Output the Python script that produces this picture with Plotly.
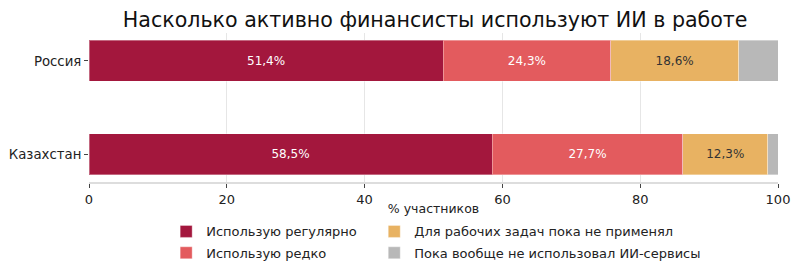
import plotly.graph_objects as go

countries = ["Россия", "Казахстан"]
series_names = ["Использую регулярно", "Использую редко",
                "Для рабочих задач пока не применял", "Пока вообще не использовал ИИ-сервисы"]
regular = [51.4, 58.5]
rare = [24.3, 27.7]
not_for_work = [18.6, 12.3]
never = [5.7, 1.5]
x_ticks = [0, 20, 40, 60, 80, 100]

colors = ["#A3173D", "#E35B5E", "#E8B262", "#B8B8B8"]
text_colors = ["white", "white", "#333333", "#333333"]
values = [regular, rare, not_for_work, never]
legend_ids = ["legend", "legend2", "legend3", "legend4"]
show_text = [True, True, True, False]

fig = go.Figure()
for name, vals, col, tc, lg, st in zip(series_names, values, colors, text_colors, legend_ids, show_text):
    fig.add_trace(go.Bar(
        y=countries, x=vals, name=name, orientation="h",
        marker=dict(color=col, line=dict(color="rgba(255,255,255,0.35)", width=1)),
        text=[f"{v:.1f}%".replace(".", ",") for v in vals] if st else None,
        textposition="inside", insidetextanchor="middle",
        textfont=dict(color=tc, size=12, family="DejaVu Sans"),
        width=0.44, legend=lg, showlegend=True, hoverinfo="skip",
    ))

leg_common = dict(orientation="h", xref="paper", yref="container", xanchor="left", yanchor="top",
                  font=dict(size=13), traceorder="normal", bgcolor="rgba(0,0,0,0)")
row1_y, row2_y = 0.21, 0.132
col1_x, col2_x = 0.112, 0.414
fig.update_layout(
    barmode="stack",
    showlegend=True,
    width=800, height=274,
    margin=dict(l=89, r=22, t=33, b=92, autoexpand=False),
    plot_bgcolor="white", paper_bgcolor="white",
    font=dict(family="DejaVu Sans", size=12, color="#222222"),
    title=dict(text="Насколько активно финансисты используют ИИ в работе",
               x=0.544, xanchor="center", y=0.928, yanchor="middle",
               font=dict(size=20.6, color="#111111")),
    uniformtext=dict(mode="show", minsize=8),
    legend=dict(x=col1_x, y=row1_y, **leg_common),
    legend2=dict(x=col1_x, y=row2_y, **leg_common),
    legend3=dict(x=col2_x, y=row1_y, **leg_common),
    legend4=dict(x=col2_x, y=row2_y, **leg_common),
)
fig.update_xaxes(range=[0, 100], tickvals=x_ticks, ticktext=[str(t) for t in x_ticks],
                 showgrid=True, gridcolor="#E6E6E6", gridwidth=1,
                 ticks="outside", ticklen=4, tickcolor="#444", tickfont=dict(size=13),
                 showline=True, linecolor="#DDDDDD", linewidth=2, zeroline=False,
                 title=dict(text="% участников", font=dict(size=12.5), standoff=8))
fig.update_yaxes(range=[1.3, -0.3], ticks="outside", ticklen=4, tickcolor="#444",
                 tickfont=dict(size=13.3), showline=False, showgrid=False)

fig.write_html("out.html")
